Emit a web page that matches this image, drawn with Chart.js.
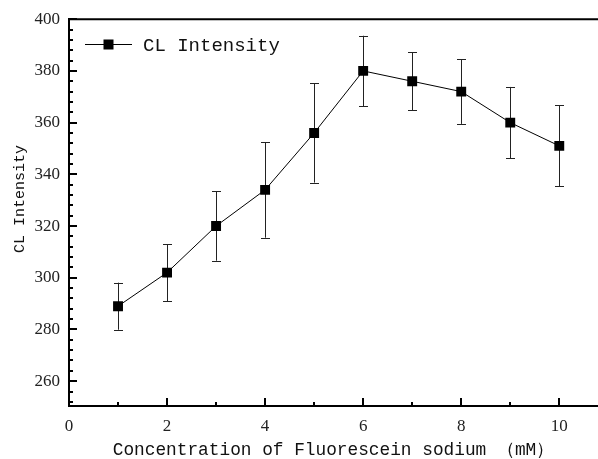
<!DOCTYPE html>
<html>
<head>
<meta charset="utf-8">
<script src="https://cdn.jsdelivr.net/npm/chart.js@4"></script>
<style>
html,body{margin:0;padding:0;background:#fff;}
#wrap{width:598px;height:459px;position:relative;}
</style>
</head>
<body>
<div id="wrap"><canvas id="c" width="598" height="459"></canvas></div>
<script>
const concentrations = [1, 2, 3, 4, 5, 6, 7, 8, 9, 10];
const intensity = [289, 302, 320, 334, 356, 380, 376, 372, 360, 351];
const intensityErr = [9.1, 11, 13.4, 18.5, 19.2, 13.6, 11.3, 12.5, 13.8, 15.7];
const xTickLabels = [0, 2, 4, 6, 8, 10];
const yTickLabels = [260, 280, 300, 320, 340, 360, 380, 400];
const seriesName = 'CL Intensity';
const xTitle = 'Concentration of Fluorescein sodium （mM）';
const yTitle = 'CL Intensity';

const errorBarPlugin = {
  id: 'errorBars',
  beforeDatasetsDraw(chart) {
    const ctx = chart.ctx, xs = chart.scales.x, ys = chart.scales.y;
    ctx.save();
    ctx.strokeStyle = '#222';
    ctx.lineWidth = 1;
    concentrations.forEach((c, i) => {
      const px = Math.round(xs.getPixelForValue(c)) + 0.5;
      const top = ys.getPixelForValue(intensity[i] + intensityErr[i]);
      const bot = ys.getPixelForValue(intensity[i] - intensityErr[i]);
      ctx.beginPath();
      ctx.moveTo(px, top); ctx.lineTo(px, bot);
      ctx.moveTo(px - 4.5, Math.round(top) + 0.5); ctx.lineTo(px + 4.5, Math.round(top) + 0.5);
      ctx.moveTo(px - 4.5, Math.round(bot) + 0.5); ctx.lineTo(px + 4.5, Math.round(bot) + 0.5);
      ctx.stroke();
    });
    ctx.restore();
  }
};

const frameTicksPlugin = {
  id: 'frameTicks',
  afterDraw(chart) {
    const ctx = chart.ctx, xs = chart.scales.x, ys = chart.scales.y;
    const a = chart.chartArea;
    ctx.save();
    ctx.strokeStyle = '#000';
    ctx.lineWidth = 2;
    ctx.beginPath();
    ctx.moveTo(a.left - 1, a.top); ctx.lineTo(a.right, a.top);
    ctx.stroke();
    ctx.beginPath();
    for (let v = Math.ceil(ys.min / 4) * 4; v <= ys.max; v += 4) {
      const py = Math.round(ys.getPixelForValue(v));
      const major = yTickLabels.includes(v);
      ctx.moveTo(a.left, py); ctx.lineTo(a.left + (major ? 8 : 4), py);
    }
    for (let v = 1; v <= xs.max; v += 1) {
      const px = Math.round(xs.getPixelForValue(v));
      const major = xTickLabels.includes(v);
      ctx.moveTo(px, a.bottom); ctx.lineTo(px, a.bottom - (major ? 8 : 4));
    }
    ctx.stroke();
    const lx = 85, ly = 44;
    ctx.lineWidth = 1;
    ctx.beginPath();
    ctx.moveTo(lx, ly + 0.5); ctx.lineTo(lx + 47, ly + 0.5);
    ctx.stroke();
    ctx.fillStyle = '#000';
    ctx.fillRect(lx + 18.5, ly - 4.5, 10, 10);
    ctx.font = '19px "Liberation Mono"';
    ctx.textBaseline = 'middle';
    ctx.textAlign = 'left';
    ctx.fillStyle = '#111';
    ctx.fillText(chart.data.datasets[0].label, 143, 46);
    ctx.restore();
  }
};

new Chart(document.getElementById('c'), {
  type: 'line',
  data: {
    datasets: [{
      label: seriesName,
      data: concentrations.map((c, i) => ({x: c, y: intensity[i]})),
      borderColor: '#000',
      borderWidth: 1,
      backgroundColor: '#000',
      pointStyle: 'rect',
      pointRadius: 7,
      pointBorderWidth: 0,
      pointBackgroundColor: '#000',
      tension: 0
    }]
  },
  options: {
    responsive: false,
    animation: false,
    devicePixelRatio: 1,
    layout: { autoPadding: false, padding: { top: 18, right: 0, left: 0, bottom: 0 } },
    plugins: { legend: { display: false }, tooltip: { enabled: false } },
    scales: {
      x: {
        type: 'linear',
        min: 0,
        max: 10.79,
        afterBuildTicks: s => { s.ticks = xTickLabels.map(v => ({value: v})); },
        afterFit: s => { s.height = 53; s.paddingRight = 0; s.paddingLeft = 0; },
        grid: { display: true, drawOnChartArea: false, drawTicks: false },
        border: { display: true, color: '#000', width: 2 },
        ticks: { color: '#222', padding: 10, maxRotation: 0, font: { family: 'Liberation Serif', size: 17 } },
        title: { display: true, text: xTitle, color: '#111', padding: { top: 0, bottom: 0 },
                 font: { family: 'Liberation Mono', size: 17.8, lineHeight: 1.0 } }
      },
      y: {
        type: 'linear',
        min: 250.4,
        max: 400,
        afterBuildTicks: s => { s.ticks = yTickLabels.map(v => ({value: v})); },
        afterFit: s => { s.width = 69; },
        grid: { display: true, drawOnChartArea: false, drawTicks: false },
        border: { display: true, color: '#000', width: 2 },
        ticks: { color: '#222', padding: 9, font: { family: 'Liberation Serif', size: 17 } },
        title: { display: true, text: '   ' + yTitle, color: '#111', padding: { top: 11, bottom: 0 },
                 font: { family: 'Liberation Mono', size: 15, lineHeight: 1.2 } }
      }
    }
  },
  plugins: [errorBarPlugin, frameTicksPlugin]
});
</script>
</body>
</html>
